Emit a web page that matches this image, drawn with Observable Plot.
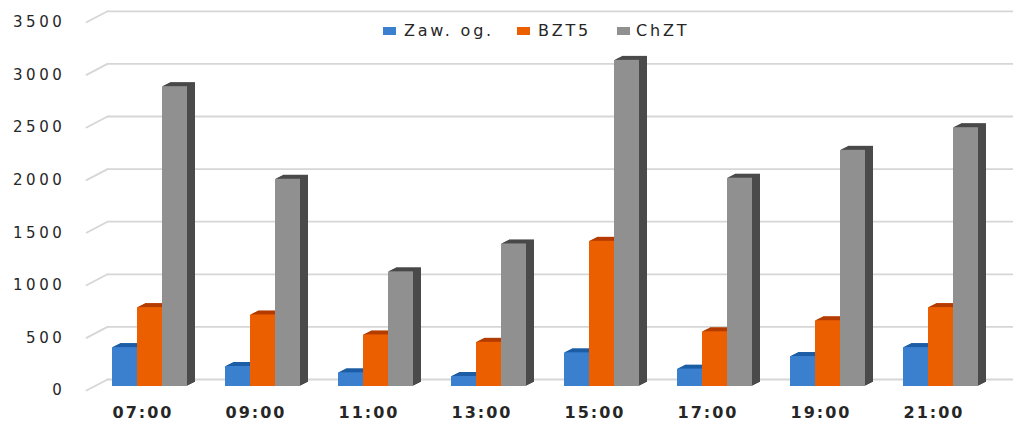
<!DOCTYPE html>
<html>
<head>
<meta charset="utf-8">
<script src="https://cdn.jsdelivr.net/npm/d3@7"></script>
<script src="https://cdn.jsdelivr.net/npm/@observablehq/plot@0.6"></script>
<style>
  html, body { margin: 0; padding: 0; background: #fff; }
  #wrap { position: relative; width: 1024px; height: 430px; overflow: hidden; }
  #legend { position: absolute; left: 0; top: 0; width: 1024px; height: 60px; font-family: "DejaVu Sans", sans-serif; font-size: 16px; color: #262626; z-index: 2; }
  .item { position: absolute; top: 20px; height: 22px; line-height: 22px; white-space: nowrap; letter-spacing: 2.8px; }
  .sw { display: inline-block; width: 13px; height: 8px; margin-right: 8px; vertical-align: 1px; }
</style>
</head>
<body>
<div id="wrap"><div id="legend"></div></div>
<script>
const times = ["07:00", "09:00", "11:00", "13:00", "15:00", "17:00", "19:00", "21:00"];
const zawOg = [370, 190, 130, 95, 320, 165, 285, 370];
const bzt5 = [750, 680, 490, 420, 1380, 520, 625, 750];
const chzt = [2850, 1970, 1090, 1355, 3100, 1980, 2245, 2460];
const seriesNames = ["Zaw. og.", "BZT5", "ChZT"];
const yTicks = [0, 500, 1000, 1500, 2000, 2500, 3000, 3500];

const frontColors = ["#3a80cf", "#eb5f00", "#909090"];
const topColors = ["#1d5ea6", "#b53c00", "#4a4a4a"];
const seriesValues = [zawOg, bzt5, chzt];

const barMarks = [];
seriesValues.forEach((vals, s) => {
  const rows = times.map((t, i) => ({time: t, v: vals[i]}));
  const off = (s - 1) * 25;
  for (let k = 8; k >= 1; k--) {
    barMarks.push(Plot.barY(rows, {x: "time", y: "v", fill: topColors[s], dx: off + k, dy: -k / 2}));
  }
  barMarks.push(Plot.barY(rows, {x: "time", y: "v", fill: frontColors[s], dx: off}));
});

const wallLine = {draw(context, l) { context.moveTo(0, 0); context.lineTo(0, -l); }};

const chart = Plot.plot({
  width: 1024,
  height: 430,
  marginLeft: 107,
  marginRight: 11,
  marginTop: 10,
  marginBottom: 44,
  style: {fontFamily: "DejaVu Sans, sans-serif", color: "#262626", background: "white"},
  x: {type: "band", domain: times, range: [137, 953], paddingInner: 1 - 25 / 113, paddingOuter: 0, label: null},
  y: {domain: [0, 3500], range: [386, 17.8], label: null},
  marks: [
    Plot.ruleY(yTicks, {dy: -7, stroke: "#d6d6d6", strokeWidth: 1.8}),
    Plot.vector(yTicks, {y: d => d, frameAnchor: "left", dy: -7, length: 23.7, rotate: 242.4, anchor: "start", shape: wallLine, stroke: "#d6d6d6", strokeWidth: 1.8}),
    ...barMarks,
    Plot.axisY(yTicks, {tickSize: 0, tickPadding: 42, dy: 4, fontSize: 15, fill: "#262626", tickFormat: d => String(d), label: null}),
    Plot.axisX({tickSize: 0, tickPadding: 20, dx: -7, fontSize: 16, fontWeight: "bold", fill: "#262626", label: null})
  ]
});

const svg = d3.select(chart);
svg.selectAll("g[aria-label='y-axis tick label'] text").attr("letter-spacing", "3.6px");
svg.selectAll("g[aria-label='x-axis tick label'] text").attr("letter-spacing", "2px");

document.getElementById("wrap").appendChild(chart);
chart.style.position = "absolute";
chart.style.left = "0";
chart.style.top = "0";
const legend = document.getElementById("legend");
const lefts = [383, 517, 617];
seriesNames.forEach((name, s) => {
  const item = document.createElement("div");
  item.className = "item";
  item.style.left = lefts[s] + "px";
  const sw = document.createElement("span");
  sw.className = "sw";
  sw.style.background = frontColors[s];
  if (s === 2) sw.style.marginRight = "6px";
  item.appendChild(sw);
  item.appendChild(document.createTextNode(name));
  legend.appendChild(item);
});
</script>
</body>
</html>
